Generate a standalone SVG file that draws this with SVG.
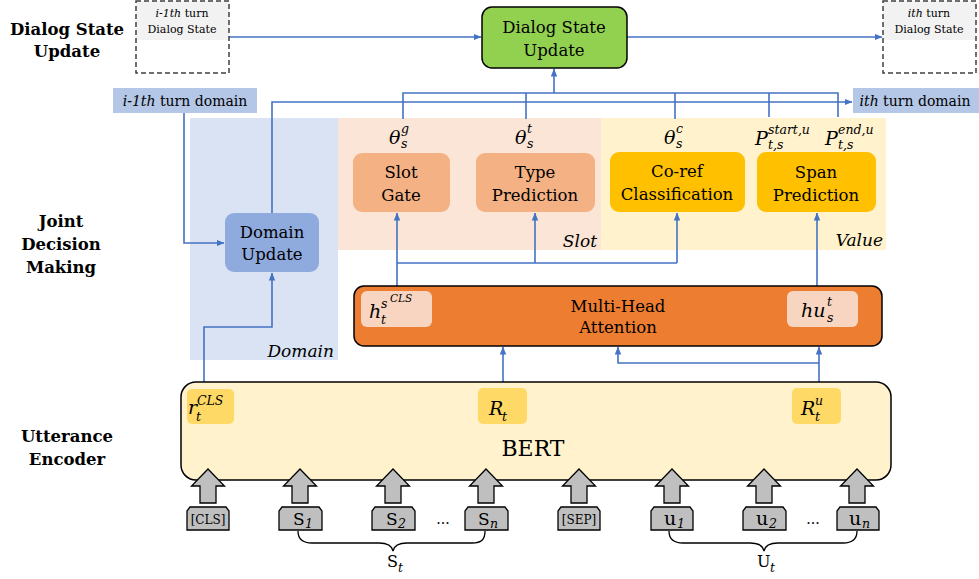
<svg xmlns="http://www.w3.org/2000/svg" width="979" height="579" viewBox="0 0 979 579">
<defs>
<marker id="ah" viewBox="0 0 8 8" refX="7.5" refY="4" markerWidth="8" markerHeight="8" markerUnits="userSpaceOnUse" orient="auto">
<path d="M0,0.8 L8,4 L0,7.2 Z" fill="#4472C4"/>
</marker>
<style>
text{font-family:"DejaVu Serif","Liberation Serif",serif;fill:#000}
.lbl{font-size:16.5px;font-weight:bold;text-anchor:middle}
.box{font-size:16.5px;text-anchor:middle}
.sm{font-size:11px;text-anchor:middle}
.dom{font-size:14px}
.m{font-style:italic;font-size:19px}
.ms{font-style:italic;font-size:12.5px}
.mss{font-style:italic;font-size:10.5px}
.reg{font-style:italic;font-size:17px;text-anchor:end}
.conn{fill:none;stroke:#4472C4;stroke-width:1.6}
.ca{fill:none;stroke:#4472C4;stroke-width:1.6;marker-end:url(#ah)}
.blk{fill:#BFBFBF;stroke:#000;stroke-width:1.3}
.tok{fill:#BFBFBF;stroke:#000;stroke-width:1.3}
.brace{fill:none;stroke:#000;stroke-width:1.3}
</style>
</defs>
<rect width="979" height="579" fill="#fff"/>

<!-- region backgrounds -->
<g id="region-domain"><rect x="190" y="118" width="148" height="242" fill="#DAE3F3"/><text class="reg" x="334" y="357">Domain</text></g>
<g id="region-slot"><rect x="338" y="118" width="263" height="132" fill="#FBE5D6"/><text class="reg" x="597" y="247">Slot</text></g>
<g id="region-value"><rect x="601" y="118" width="285" height="132" fill="#FFF2CC"/><text class="reg" x="883" y="246">Value</text></g>

<!-- left stage labels -->
<g id="label-dsu"><text class="lbl" x="67" y="35">Dialog State</text><text class="lbl" x="67" y="57">Update</text></g>
<g id="label-jdm"><text class="lbl" x="61" y="227">Joint</text><text class="lbl" x="61" y="250">Decision</text><text class="lbl" x="61" y="273">Making</text></g>
<g id="label-ue"><text class="lbl" x="67" y="442">Utterance</text><text class="lbl" x="67" y="465">Encoder</text></g>

<!-- connectors -->
<g id="connectors">
<path class="ca" d="M229,37 L481,37"/>
<path class="ca" d="M627,37 L882,37"/>
<path class="conn" d="M403,119 L403,93 L838,93 L838,117"/>
<path class="conn" d="M526,93 L526,119"/>
<path class="conn" d="M675,93 L675,119"/>
<path class="conn" d="M769,93 L769,117"/>
<path class="ca" d="M554,93 L554,69"/>
<path class="ca" d="M272,213 L272,102 L852,102"/>
<path class="ca" d="M184,113 L184,243 L224,243"/>
<path class="ca" d="M204,382 L204,327 L272,327 L272,273"/>
<path class="ca" d="M397,286 L397,213"/>
<path class="conn" d="M397,263 L677,263"/>
<path class="ca" d="M677,263 L677,213"/>
<path class="ca" d="M535,263 L535,213"/>
<path class="ca" d="M817,286 L817,213"/>
<path class="ca" d="M503,382 L503,347"/>
<path class="ca" d="M819,382 L819,347"/>
<path class="ca" d="M819,363 L618,363 L618,347"/>
</g>

<!-- top nodes -->
<g id="prev-ds">
<rect x="136" y="1" width="93" height="39" fill="#F2F2F2"/>
<rect x="136" y="1" width="93" height="72" fill="none" stroke="#404040" stroke-width="1.5" stroke-dasharray="5,3"/>
<text class="sm" x="182" y="17"><tspan font-style="italic">i-1th</tspan> turn</text>
<text class="sm" x="182" y="33">Dialog State</text>
</g>
<g id="dsu">
<rect x="482" y="7" width="145" height="61" rx="10" fill="#92D050" stroke="#000" stroke-width="1.5"/>
<text class="box" x="554" y="33">Dialog State</text>
<text class="box" x="554" y="56">Update</text>
</g>
<g id="cur-ds">
<rect x="883" y="1" width="93" height="39" fill="#F2F2F2"/>
<rect x="883" y="1" width="93" height="72" fill="none" stroke="#404040" stroke-width="1.5" stroke-dasharray="5,3"/>
<text class="sm" x="929" y="17"><tspan font-style="italic">ith</tspan> turn</text>
<text class="sm" x="929" y="33">Dialog State</text>
</g>
<g id="prev-domain">
<rect x="113" y="88" width="144" height="25" fill="#B4C7E7"/>
<text class="dom" x="185" y="106" text-anchor="middle"><tspan font-style="italic">i-1th</tspan> turn domain</text>
</g>
<g id="cur-domain">
<rect x="853" y="88" width="126" height="25" fill="#B4C7E7"/>
<text class="dom" x="915" y="106" text-anchor="middle"><tspan font-style="italic">ith</tspan> turn domain</text>
</g>

<!-- decision nodes -->
<g id="domain-update">
<rect x="225" y="213" width="94" height="59" rx="9" fill="#8FAADC"/>
<text class="box" x="272" y="238">Domain</text>
<text class="box" x="272" y="260">Update</text>
</g>
<g id="slot-gate">
<rect x="353" y="153" width="97" height="59" rx="9" fill="#F4B183"/>
<text class="box" x="401" y="178">Slot</text>
<text class="box" x="401" y="201">Gate</text>
<text class="m" x="389" y="144">θ</text><text class="ms" x="401" y="133">g</text><text class="ms" x="401" y="148">s</text>
</g>
<g id="type-pred">
<rect x="476" y="153" width="119" height="59" rx="9" fill="#F4B183"/>
<text class="box" x="535" y="178">Type</text>
<text class="box" x="535" y="201">Prediction</text>
<text class="m" x="515" y="144">θ</text><text class="ms" x="527" y="133">t</text><text class="ms" x="527" y="148">s</text>
</g>
<g id="coref">
<rect x="610" y="152" width="135" height="60" rx="9" fill="#FFC000"/>
<text class="box" x="677" y="177">Co-ref</text>
<text class="box" x="677" y="200">Classification</text>
<text class="m" x="664" y="144">θ</text><text class="ms" x="676" y="133">c</text><text class="ms" x="676" y="148">s</text>
</g>
<g id="span-pred">
<rect x="757" y="152" width="119" height="60" rx="9" fill="#FFC000"/>
<text class="box" x="816" y="178">Span</text>
<text class="box" x="816" y="201">Prediction</text>
<text class="m" x="755" y="145">P</text><text class="ms" x="768" y="134">start,u</text><text class="ms" x="768" y="149">t,s</text>
<text class="m" x="825" y="145">P</text><text class="ms" x="838" y="134">end,u</text><text class="ms" x="838" y="149">t,s</text>
</g>

<!-- attention -->
<g id="mha">
<rect x="354" y="286" width="528" height="60" rx="10" fill="#ED7D31" stroke="#000" stroke-width="1.5"/>
<rect x="361" y="291" width="71" height="36" rx="6" fill="#F8D5C0"/>
<rect x="787" y="291" width="71" height="36" rx="6" fill="#F8D5C0"/>
<text class="box" x="618" y="312">Multi-Head</text>
<text class="box" x="618" y="333">Attention</text>
<text class="m" x="369" y="318">h</text><text class="ms" x="381" y="324">t</text><text class="ms" x="381" y="308">s</text><text class="mss" x="390" y="302">CLS</text>
<text class="m" x="801" y="317">hu</text><text class="ms" x="827" y="306">t</text><text class="ms" x="827" y="322">s</text>
</g>

<!-- BERT -->
<g id="bert">
<rect x="181" y="382" width="710" height="98" rx="15" fill="#FFF2CC" stroke="#000" stroke-width="1.5"/>
<rect x="187" y="389" width="47" height="35" rx="5" fill="#FFD966"/>
<rect x="478" y="388" width="49" height="36" rx="5" fill="#FFD966"/>
<rect x="792" y="388" width="49" height="36" rx="5" fill="#FFD966"/>
<text x="533" y="456" font-size="22" text-anchor="middle">BERT</text>
<text class="m" x="188" y="414">r</text><text class="ms" x="196" y="421">t</text><text class="ms" x="197" y="405">CLS</text>
<text class="m" x="489" y="415">R</text><text class="ms" x="502" y="421">t</text>
<text class="m" x="801" y="415">R</text><text class="ms" x="815" y="421">t</text><text class="ms" x="815" y="405">u</text>
</g>

<!-- input tokens -->
<g id="tok-cls"><path class="blk" d="M208,469 L224.5,486 L216,486 L216,503 L200,503 L200,486 L191.5,486 Z"/><path class="tok" d="M187,530 L187,511 L190,507 L226,507 L229,511 L229,530 Z"/><text x="208" y="524" font-size="12" text-anchor="middle">[CLS]</text></g>
<g id="tok-s1"><path class="blk" d="M300,469 L316.5,486 L308,486 L308,503 L292,503 L292,486 L283.5,486 Z"/><path class="tok" d="M279,530 L279,511 L282,507 L319,507 L322,511 L322,530 Z"/><text x="293" y="525" font-size="17">S</text><text class="ms" x="305" y="528">1</text></g>
<g id="tok-s2"><path class="blk" d="M393,469 L409.5,486 L401,486 L401,503 L385,503 L385,486 L376.5,486 Z"/><path class="tok" d="M372,530 L372,511 L375,507 L412,507 L415,511 L415,530 Z"/><text x="386" y="525" font-size="17">S</text><text class="ms" x="398" y="528">2</text></g>
<g id="dots-s"><text x="443" y="524" font-size="14" text-anchor="middle">...</text></g>
<g id="tok-sn"><path class="blk" d="M486,469 L502.5,486 L494,486 L494,503 L478,503 L478,486 L469.5,486 Z"/><path class="tok" d="M465,530 L465,511 L468,507 L505,507 L508,511 L508,530 Z"/><text x="478" y="525" font-size="17">S</text><text class="ms" x="490" y="528">n</text></g>
<g id="tok-sep"><path class="blk" d="M579,469 L595.5,486 L587,486 L587,503 L571,503 L571,486 L562.5,486 Z"/><path class="tok" d="M558,530 L558,511 L561,507 L597,507 L600,511 L600,530 Z"/><text x="579" y="524" font-size="12" text-anchor="middle">[SEP]</text></g>
<g id="tok-u1"><path class="blk" d="M672,469 L688.5,486 L680,486 L680,503 L664,503 L664,486 L655.5,486 Z"/><path class="tok" d="M651,530 L651,511 L654,507 L690,507 L693,511 L693,530 Z"/><text x="664" y="525" font-size="19">u</text><text class="ms" x="677" y="528">1</text></g>
<g id="tok-u2"><path class="blk" d="M764,469 L780.5,486 L772,486 L772,503 L756,503 L756,486 L747.5,486 Z"/><path class="tok" d="M743,530 L743,511 L746,507 L783,507 L786,511 L786,530 Z"/><text x="756" y="525" font-size="19">u</text><text class="ms" x="769" y="528">2</text></g>
<g id="dots-u"><text x="813" y="524" font-size="14" text-anchor="middle">...</text></g>
<g id="tok-un"><path class="blk" d="M857,469 L873.5,486 L865,486 L865,503 L849,503 L849,486 L840.5,486 Z"/><path class="tok" d="M837,530 L837,511 L840,507 L876,507 L879,511 L879,530 Z"/><text x="849" y="525" font-size="19">u</text><text class="ms" x="862" y="528">n</text></g>

<!-- braces -->
<g id="brace-s"><path class="brace" d="M298,531 C298,539 302,543 312,543 L379,543 C388,543 392,546 393,551 C394,546 398,543 407,543 L472,543 C482,543 485,539 485,531"/><text x="387" y="567" font-size="16">S</text><text class="ms" x="398" y="572">t</text></g>
<g id="brace-u"><path class="brace" d="M669,531 C669,539 673,543 683,543 L750,543 C759,543 763,546 764,551 C765,546 769,543 778,543 L843,543 C853,543 857,539 857,531"/><text x="757" y="567" font-size="16">U</text><text class="ms" x="770" y="572">t</text></g>
</svg>
